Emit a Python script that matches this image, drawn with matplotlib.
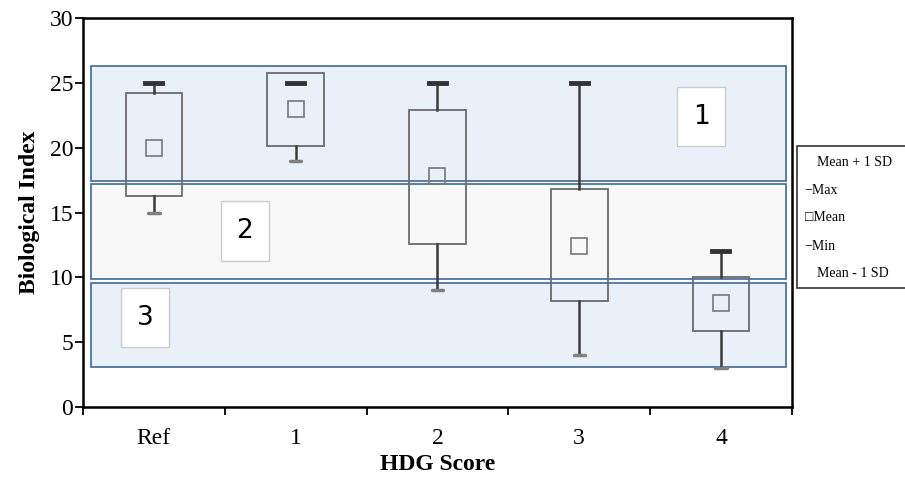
import numpy as np
import matplotlib.pyplot as plt
from matplotlib.patches import Rectangle

plt.rcParams['font.family'] = ['Liberation Serif', 'DejaVu Serif']

groups = ["Ref", "1", "2", "3", "4"]
sd_hi = [24.2, 25.8, 22.9, 16.8, 10.0]
sd_lo = [16.3, 20.1, 12.6, 8.2, 5.9]
means = [20.0, 23.0, 17.8, 12.4, 8.0]
maxs = [25, 25, 25, 25, 12]
mins = [15, 19, 9, 4, 3]

# condition bands (label, top, bottom)
band_names = ["1", "2", "3"]
band_top = [26.3, 17.2, 9.6]
band_bot = [17.4, 9.9, 3.1]
band_label_x = [4.36, 1.14, 0.44]
band_label_y = [22.4, 13.6, 6.9]

fig = plt.figure(figsize=(9.05, 4.78), dpi=100)
ax = fig.add_axes([0.0917, 0.1485, 0.7833, 0.8135])

band_fill = ["#eaf0f7", "#f8f8f8", "#eaf0f7"]
for i in range(3):
    ax.add_patch(Rectangle((0.06, band_bot[i]), 4.9, band_top[i] - band_bot[i],
                           facecolor=band_fill[i], edgecolor="#4a74a6", lw=1.3, zorder=1))
    ax.add_patch(Rectangle((band_label_x[i] - 0.17, band_label_y[i] - 2.3), 0.34, 4.6,
                           facecolor="white", edgecolor="#cccccc", lw=1, zorder=2))
    ax.text(band_label_x[i], band_label_y[i], band_names[i], ha="center", va="center",
            fontsize=19, family="DejaVu Sans", zorder=3)

xs = np.arange(len(groups)) + 0.5
w = 0.4
for x, hi, lo, m, mx, mn in zip(xs, sd_hi, sd_lo, means, maxs, mins):
    ax.add_patch(Rectangle((x - w / 2, lo), w, hi - lo, facecolor="none",
                           edgecolor="#6b6b6b", lw=1.3, zorder=4))
    if mx > hi:
        ax.plot([x, x], [hi, mx], color="#3a3a3a", lw=1.8, zorder=4)
    if mn < lo:
        ax.plot([x, x], [mn, lo], color="#3a3a3a", lw=1.8, zorder=4)
    ax.plot([x - 0.06, x + 0.06], [mx, mx], color="#333333", lw=3.5, zorder=5)
    ax.plot([x - 0.04, x + 0.04], [mn, mn], color="#808080", lw=2.5,
            solid_capstyle="round", zorder=5)
    ax.plot([x], [m], marker="s", ms=11, mfc="none", mec="#777777", mew=1.2, zorder=5)

ax.set_xlim(0, 5)
ax.set_ylim(0, 30)
ax.set_yticks([0, 5, 10, 15, 20, 25, 30])
ax.set_xticks(np.arange(6))
ax.set_xticklabels([])
ax.set_xticks(xs, minor=True)
ax.set_xticklabels(groups, minor=True)
ax.tick_params(axis="x", which="minor", length=0, pad=15, labelsize=17)
ax.tick_params(axis="x", which="major", direction="out", length=6, width=1.3)
ax.tick_params(axis="y", direction="out", length=6, width=1.3, labelsize=17, pad=1)
for s in ax.spines.values():
    s.set_linewidth(1.8)
ax.set_xlabel("HDG Score", fontsize=17, fontweight="bold", labelpad=4)
ax.set_ylabel("Biological Index", fontsize=17, fontweight="bold", labelpad=7)

# legend panel
fig.patches.append(Rectangle((0.881, 0.397), 0.2, 0.298, transform=fig.transFigure,
                             facecolor="white", edgecolor="#333333", lw=1.2))
leg_items = ["Mean + 1 SD", "\u2212Max", "\u25a1Mean", "\u2212Min", "Mean - 1 SD"]
leg_x = [0.903, 0.889, 0.889, 0.889, 0.903]
leg_y = [0.659, 0.602, 0.544, 0.485, 0.428]
for t, lx, ly in zip(leg_items, leg_x, leg_y):
    fig.text(lx, ly, t, fontsize=10, va="center", ha="left",
             family=["Liberation Serif", "DejaVu Sans"])

fig.savefig("out.png", dpi=100)
